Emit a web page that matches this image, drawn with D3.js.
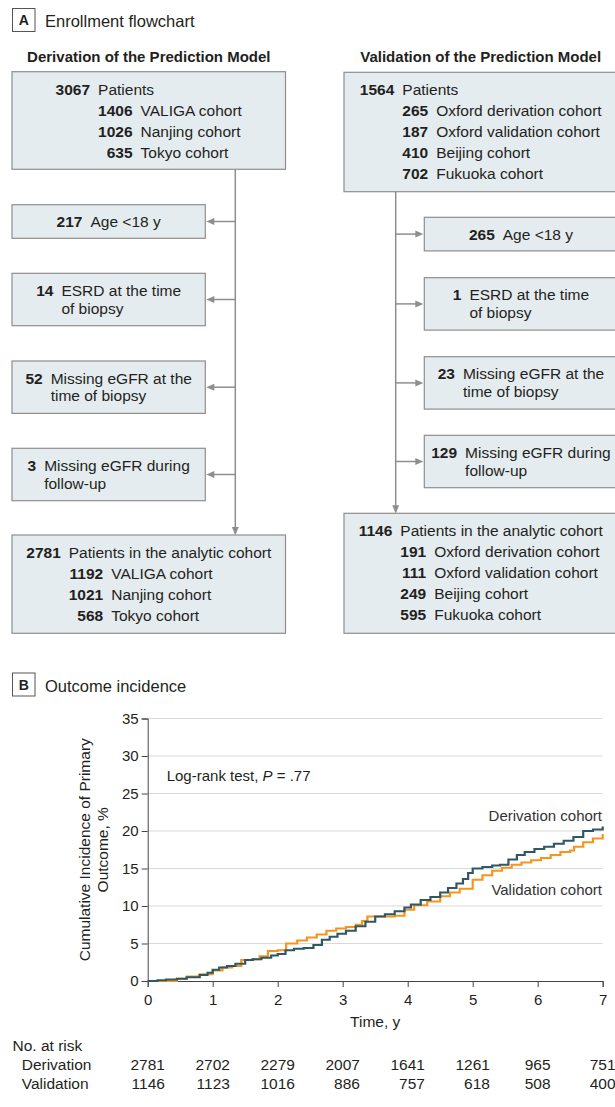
<!DOCTYPE html>
<html><head><meta charset="utf-8">
<script src="https://cdn.jsdelivr.net/npm/d3@7"></script>
<style>
body{margin:0;background:#fff;}
svg{display:block;font-family:"Liberation Sans",Arial,sans-serif;}
</style></head><body>
<svg id="c" width="615" height="1107"></svg>
<script>
// ---------- DATA ----------
const derivStartCounts = [3067, 1406, 1026, 635];
const derivStartLabels = ["Patients", "VALIGA cohort", "Nanjing cohort", "Tokyo cohort"];
const validStartCounts = [1564, 265, 187, 410, 702];
const validStartLabels = ["Patients", "Oxford derivation cohort", "Oxford validation cohort", "Beijing cohort", "Fukuoka cohort"];
const derivExclCounts = [217, 14, 52, 3];
const validExclCounts = [265, 1, 23, 129];
const exclLabels = [["Age <18 y"], ["ESRD at the time", "of biopsy"], ["Missing eGFR at the", "time of biopsy"], ["Missing eGFR during", "follow-up"]];
const derivFinalCounts = [2781, 1192, 1021, 568];
const derivFinalLabels = ["Patients in the analytic cohort", "VALIGA cohort", "Nanjing cohort", "Tokyo cohort"];
const validFinalCounts = [1146, 191, 111, 249, 595];
const validFinalLabels = ["Patients in the analytic cohort", "Oxford derivation cohort", "Oxford validation cohort", "Beijing cohort", "Fukuoka cohort"];

const derivTime = [0, 0.15, 0.28, 0.45, 0.6, 0.8, 0.92, 1.0, 1.1, 1.22, 1.35, 1.5, 1.62, 1.75, 1.9, 2.0, 2.12, 2.25, 2.4, 2.55, 2.68, 2.8, 2.92, 3.05, 3.2, 3.35, 3.5, 3.65, 3.8, 3.95, 4.05, 4.2, 4.35, 4.5, 4.62, 4.75, 4.85, 4.93, 5.0, 5.15, 5.3, 5.42, 5.55, 5.68, 5.8, 5.95, 6.1, 6.25, 6.4, 6.55, 6.7, 6.85, 7.0];
const derivCum  = [0, 0.1, 0.2, 0.3, 0.5, 0.8, 1.1, 1.5, 1.8, 2.0, 2.3, 2.8, 2.9, 3.1, 3.4, 3.6, 4.1, 4.3, 4.4, 4.8, 5.5, 5.9, 6.3, 6.7, 7.3, 7.9, 8.6, 8.9, 9.3, 9.8, 10.2, 10.8, 11.2, 11.8, 12.4, 13.0, 13.6, 14.4, 15.0, 15.2, 15.4, 15.5, 16.2, 16.8, 17.2, 17.6, 17.9, 18.3, 18.7, 19.2, 20.0, 20.2, 20.6];
const validTime = [0, 0.3, 0.45, 0.6, 0.8, 1.0, 1.15, 1.3, 1.44, 1.6, 1.72, 1.85, 2.0, 2.13, 2.3, 2.45, 2.6, 2.75, 2.9, 3.05, 3.2, 3.3, 3.38, 3.6, 3.8, 3.95, 4.1, 4.3, 4.5, 4.65, 4.8, 5.0, 5.15, 5.3, 5.45, 5.6, 5.75, 5.9, 6.05, 6.2, 6.35, 6.5, 6.56, 6.7, 6.85, 7.0];
const validCum  = [0, 0.0, 0.3, 0.6, 0.9, 1.4, 1.8, 2.0, 2.8, 2.9, 3.3, 4.0, 4.1, 5.0, 5.4, 5.8, 6.2, 6.7, 7.0, 7.2, 7.5, 8.0, 8.6, 8.6, 8.7, 9.5, 10.1, 10.6, 11.3, 11.8, 12.3, 13.5, 14.1, 14.7, 15.1, 15.5, 15.8, 16.1, 16.4, 16.8, 17.2, 17.4, 17.9, 18.5, 19.0, 19.6];

const yTicks = [0, 5, 10, 15, 20, 25, 30, 35];
const xTicks = [0, 1, 2, 3, 4, 5, 6, 7];
const riskDeriv = [2781, 2702, 2279, 2007, 1641, 1261, 965, 751];
const riskValid = [1146, 1123, 1016, 886, 757, 618, 508, 400];

// ---------- STYLE ----------
const TXT = "#231f20", BOXF = "#e5ecf0", BOXS = "#8e8e8e", LINE = "#8e8e8e";
const DERIV_C = "#2d5864", VALID_C = "#f7941d";
const FS = 15.5;

const svg = d3.select("#c");

// panel headers
function panelHeader(letter, title, y0) {
  svg.append("rect").attr("x", 12.5).attr("y", y0).attr("width", 22.5).attr("height", 23)
    .attr("fill", "#fff").attr("stroke", "#555").attr("stroke-width", 1);
  svg.append("text").attr("x", 23.75).attr("y", y0 + 16.5).attr("text-anchor", "middle")
    .attr("font-weight", "bold").attr("font-size", 14).attr("fill", TXT).text(letter);
  svg.append("text").attr("x", 45).attr("y", y0 + 18.5).attr("font-size", 16.5).attr("fill", TXT).text(title);
}
panelHeader("A", "Enrollment flowchart", 8.5);
panelHeader("B", "Outcome incidence", 673);

// column headings
svg.append("text").attr("x", 148.8).attr("y", 62).attr("text-anchor", "middle").attr("font-weight", "bold")
  .attr("font-size", 15).attr("fill", TXT).text("Derivation of the Prediction Model");
svg.append("text").attr("x", 480.7).attr("y", 62).attr("text-anchor", "middle").attr("font-weight", "bold")
  .attr("font-size", 15).attr("fill", TXT).text("Validation of the Prediction Model");

function measure(str, bold) {
  const t = svg.append("text").attr("font-size", FS).attr("font-weight", bold ? "bold" : "normal").text(str);
  const w = t.node().getComputedTextLength();
  t.remove();
  return w;
}

function bigBox(x, y, w, h, counts, labels) {
  const g = svg.append("g");
  g.append("rect").attr("x", x).attr("y", y).attr("width", w).attr("height", h)
    .attr("fill", BOXF).attr("stroke", BOXS).attr("stroke-width", 1.2);
  const gap = 8;
  const wM = measure(String(counts[0]), true);
  const wS = d3.max(counts.slice(1), c => measure(String(c), true));
  const wL0 = measure(labels[0], false);
  const wLs = d3.max(labels.slice(1), l => measure(l, false));
  const total = Math.max(wM + gap + wL0, wM + gap + wS + gap + wLs);
  const x0 = x + (w - total) / 2;
  counts.forEach((c, i) => {
    const by = y + 23 + i * 21;
    const numR = i === 0 ? x0 + wM : x0 + wM + gap + wS;
    g.append("text").attr("x", numR).attr("y", by).attr("text-anchor", "end").attr("font-weight", "bold")
      .attr("font-size", FS).attr("fill", TXT).text(c);
    g.append("text").attr("x", numR + gap).attr("y", by).attr("font-size", FS).attr("fill", TXT).text(labels[i]);
  });
}

function exclBox(x, y, w, count, lines) {
  const h = lines.length === 1 ? 33.6 : 52.4;
  const g = svg.append("g");
  g.append("rect").attr("x", x).attr("y", y).attr("width", w).attr("height", h)
    .attr("fill", BOXF).attr("stroke", BOXS).attr("stroke-width", 1.2);
  const gap = 8;
  const wN = measure(String(count), true);
  const wL = d3.max(lines, l => measure(l, false));
  const x0 = x + (w - (wN + gap + wL)) / 2;
  const cy = y + h / 2;
  lines.forEach((l, i) => {
    const by = cy + 5.4 + (lines.length === 1 ? 0 : (i === 0 ? -8.85 : 8.85));
    if (i === 0) g.append("text").attr("x", x0 + wN).attr("y", by).attr("text-anchor", "end")
      .attr("font-weight", "bold").attr("font-size", FS).attr("fill", TXT).text(count);
    g.append("text").attr("x", x0 + wN + gap).attr("y", by).attr("font-size", FS).attr("fill", TXT).text(l);
  });
  return cy;
}

function arrowHead(x, y, dir) {
  let p;
  if (dir === "left") p = [[x, y], [x + 8, y - 3.5], [x + 8, y + 3.5]];
  else if (dir === "right") p = [[x, y], [x - 8, y - 3.5], [x - 8, y + 3.5]];
  else p = [[x, y], [x - 3.5, y - 8], [x + 3.5, y - 8]];
  svg.append("path").attr("d", d3.line()(p) + "Z").attr("fill", LINE);
}

const bigW = 273.5, exclW = 193.3;
const L = { x: 12, top: 71.7, topH: 97.6, excl: [204.7, 273.3, 361, 448.3], fin: 535, finH: 98.3, vx: 235.3, ex: 12 };
const R = { x: 344, top: 72.3, topH: 119.4, excl: [217.3, 277.7, 356.7, 435.3], fin: 513.3, finH: 120, vx: 395.7, ex: 424.3 };

function connectors(C) {
  svg.append("line").attr("x1", C.vx).attr("x2", C.vx).attr("y1", C.top + C.topH).attr("y2", C.fin - 1)
    .attr("stroke", LINE).attr("stroke-width", 1.5);
  arrowHead(C.vx, C.fin, "down");
}
connectors(L); connectors(R);

bigBox(L.x, L.top, bigW, L.topH, derivStartCounts, derivStartLabels);
bigBox(R.x, R.top, bigW, R.topH, validStartCounts, validStartLabels);
bigBox(L.x, L.fin, bigW, L.finH, derivFinalCounts, derivFinalLabels);
bigBox(R.x, R.fin, bigW, R.finH, validFinalCounts, validFinalLabels);

derivExclCounts.forEach((c, i) => {
  const cy = exclBox(L.ex, L.excl[i], exclW, c, exclLabels[i]);
  svg.append("line").attr("x1", L.vx).attr("x2", L.ex + exclW + 6).attr("y1", cy).attr("y2", cy)
    .attr("stroke", LINE).attr("stroke-width", 1.5);
  arrowHead(L.ex + exclW + 1, cy, "left");
});
validExclCounts.forEach((c, i) => {
  const cy = exclBox(R.ex, R.excl[i], exclW, c, exclLabels[i]);
  svg.append("line").attr("x1", R.vx).attr("x2", R.ex - 6).attr("y1", cy).attr("y2", cy)
    .attr("stroke", LINE).attr("stroke-width", 1.5);
  arrowHead(R.ex - 1, cy, "right");
});

// ---------- PANEL B ----------
const x = d3.scaleLinear().domain([0, 7]).range([147.7, 602.7]);
const y = d3.scaleLinear().domain([0, 35]).range([981, 718.5]);

svg.append("g").selectAll("line").data(yTicks.filter(d => d > 0)).join("line")
  .attr("x1", x(0)).attr("x2", x(7)).attr("y1", d => y(d)).attr("y2", d => y(d))
  .attr("stroke", "#d9d9d9").attr("stroke-width", 1);

const yAx = svg.append("g").attr("transform", `translate(${x(0)},0)`)
  .call(d3.axisLeft(y).tickValues(yTicks).tickFormat(d3.format("d")).tickSize(6).tickPadding(3));
const xAx = svg.append("g").attr("transform", `translate(0,${y(0)})`)
  .call(d3.axisBottom(x).tickValues(xTicks).tickFormat(d3.format("d")).tickSize(6).tickPadding(7));
[yAx, xAx].forEach(a => {
  a.selectAll("path,line").attr("stroke", "#444").attr("stroke-width", 1);
  a.selectAll("text").attr("font-size", 15).attr("fill", TXT)
    .attr("font-family", '"Liberation Sans",Arial,sans-serif');
});

const stepLine = d3.line().x(d => x(d[0])).y(d => y(d[1])).curve(d3.curveStepAfter);
svg.append("path").datum(validTime.map((t, i) => [t, validCum[i]])).attr("d", stepLine)
  .attr("fill", "none").attr("stroke", VALID_C).attr("stroke-width", 2.2);
svg.append("path").datum(derivTime.map((t, i) => [t, derivCum[i]])).attr("d", stepLine)
  .attr("fill", "none").attr("stroke", DERIV_C).attr("stroke-width", 2.2);

svg.append("text").attr("x", 602).attr("y", 820.5).attr("text-anchor", "end").attr("font-size", 15)
  .attr("fill", "#333").text("Derivation cohort");
svg.append("text").attr("x", 602).attr("y", 895).attr("text-anchor", "end").attr("font-size", 15)
  .attr("fill", "#333").text("Validation cohort");
const lr = svg.append("text").attr("x", 166.7).attr("y", 781).attr("font-size", 15).attr("fill", TXT);
lr.append("tspan").text("Log-rank test, ");
lr.append("tspan").attr("font-style", "italic").text("P");
lr.append("tspan").text(" = .77");

const yt = svg.append("text").attr("transform", `translate(0,${(y(0) + y(35)) / 2}) rotate(-90)`)
  .attr("text-anchor", "middle").attr("font-size", 15.5).attr("fill", TXT);
yt.append("tspan").attr("x", 0).attr("y", 90).text("Cumulative Incidence of Primary");
yt.append("tspan").attr("x", 0).attr("y", 108).text("Outcome, %");
svg.append("text").attr("x", (x(0) + x(7)) / 2).attr("y", 1027).attr("text-anchor", "middle")
  .attr("font-size", 15.5).attr("fill", TXT).text("Time, y");

svg.append("text").attr("x", 12.5).attr("y", 1051).attr("font-size", FS).attr("fill", TXT).text("No. at risk");
svg.append("text").attr("x", 21.7).attr("y", 1070).attr("font-size", FS).attr("fill", TXT).text("Derivation");
svg.append("text").attr("x", 21.7).attr("y", 1089).attr("font-size", FS).attr("fill", TXT).text("Validation");
xTicks.forEach((t, i) => {
  const w = measure(String(riskDeriv[i]), false);
  svg.append("text").attr("x", x(t)).attr("y", 1070).attr("text-anchor", "middle")
    .attr("font-size", FS).attr("fill", TXT).text(riskDeriv[i]);
  svg.append("text").attr("x", x(t) + w / 2).attr("y", 1089).attr("text-anchor", "end")
    .attr("font-size", FS).attr("fill", TXT).text(riskValid[i]);
});
</script>
</body></html>
